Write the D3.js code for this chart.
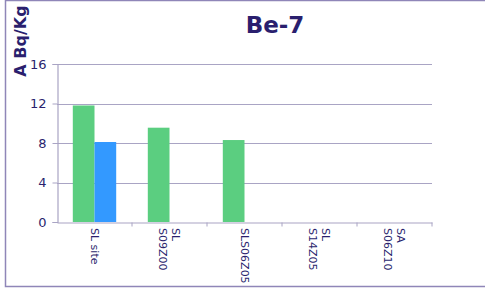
<!DOCTYPE html>
<html>
<head>
<meta charset="utf-8">
<script src="https://cdn.jsdelivr.net/npm/d3@7"></script>
<style>
  body { margin: 0; background: #fff; }
  text { font-family: "DejaVu Sans", Verdana, sans-serif; fill: #2a1f6e; }
</style>
</head>
<body>
<div id="chart"></div>
<script>
// chart data
var categories = ["SL site", "SL\nS09Z00", "SLS06Z05", "SL\nS14Z05", "SA\nS06Z10"];
var greenValues = [11.8, 9.55, 8.3, 0, 0];
var blueValues = [8.1, 0, 0, 0, 0];
var yTicks = [0, 4, 8, 12, 16];

var W = 485, H = 289;
var margin = {top: 64, right: 53, bottom: 67, left: 57},
    width = W - margin.left - margin.right,
    height = H - margin.top - margin.bottom;

var root = d3.select("#chart").append("svg")
    .attr("width", W)
    .attr("height", H);

// outer frame
root.append("path")
    .attr("d", "M485,0.5 H5.5 V286.5 H485")
    .attr("fill", "none")
    .attr("stroke", "#8f86b8")
    .attr("stroke-width", 1.5);

var svg = root.append("g")
    .attr("transform", "translate(" + margin.left + "," + margin.top + ")");

var x = d3.scaleBand()
    .domain(categories)
    .range([0, width]);

var y = d3.scaleLinear()
    .domain([0, 16])
    .range([height, 0]);

// gridlines
svg.selectAll(".grid")
    .data(yTicks.filter(function(d) { return d > 0; }))
    .enter().append("line")
    .attr("x1", 0)
    .attr("x2", width)
    .attr("y1", function(d) { return Math.round(y(d)) + 0.5; })
    .attr("y2", function(d) { return Math.round(y(d)) + 0.5; })
    .attr("stroke", "#a9a4c4")
    .attr("stroke-width", 1.2);

// bars
var barW = 21.7;
var groupOff = (x.bandwidth() - 2 * barW) / 2;
svg.selectAll(".g-bar")
    .data(greenValues)
    .enter().append("rect")
    .attr("x", function(d, i) { return x(categories[i]) + groupOff; })
    .attr("y", function(d) { return y(d); })
    .attr("width", barW)
    .attr("height", function(d) { return height - y(d); })
    .attr("fill", "#5bce80");

svg.selectAll(".b-bar")
    .data(blueValues)
    .enter().append("rect")
    .attr("x", function(d, i) { return x(categories[i]) + groupOff + barW; })
    .attr("y", function(d) { return y(d); })
    .attr("width", barW)
    .attr("height", function(d) { return height - y(d); })
    .attr("fill", "#3399ff");

// y axis
var yAxis = svg.append("g")
    .attr("transform", "translate(0.5,0)")
    .call(d3.axisLeft(y).tickValues(yTicks).tickSize(5).tickPadding(6).tickFormat(d3.format("d")));
yAxis.select(".domain").attr("stroke", "#a9a4c4").attr("stroke-width", 1.2);
yAxis.selectAll(".tick line").attr("stroke", "#a9a4c4");
yAxis.selectAll(".tick text").attr("font-size", 13).attr("fill", "#2a1f6e")
    .attr("font-family", "DejaVu Sans, sans-serif");

// x axis
var xAxis = svg.append("g")
    .attr("transform", "translate(0," + (height + 0.5) + ")")
    .call(d3.axisBottom(x).tickValues([]).tickSizeOuter(0));
xAxis.select(".domain").attr("stroke", "#a9a4c4").attr("stroke-width", 1.2);
var bounds = categories.map(function(c) { return x(c); }).concat([width]);
xAxis.selectAll(".sep")
    .data(bounds.slice(1))
    .enter().append("line")
    .attr("x1", function(d) { return d; })
    .attr("x2", function(d) { return d; })
    .attr("y1", 0)
    .attr("y2", 4)
    .attr("stroke", "#a9a4c4");

var labels = svg.append("g")
    .attr("transform", "translate(0," + (height + 6) + ")");
categories.forEach(function(c) {
    var lines = c.split("\n");
    var cx = x(c) + x.bandwidth() / 2;
    var t = labels.append("text")
        .attr("transform", "translate(" + cx + ",0) rotate(90)")
        .attr("font-size", 11)
        .attr("text-anchor", "start");
    lines.forEach(function(l, i) {
        t.append("tspan")
            .attr("x", 0)
            .attr("y", (i - (lines.length - 1) / 2) * 12.5)
            .attr("dy", "0.35em")
            .text(l);
    });
});

// title
root.append("text")
    .attr("x", 275)
    .attr("y", 33)
    .attr("text-anchor", "middle")
    .attr("font-size", 23)
    .attr("font-weight", "bold")
    .text("Be-7");

// y label
root.append("text")
    .attr("transform", "translate(26,41) rotate(-90)")
    .attr("text-anchor", "middle")
    .attr("font-size", 16)
    .attr("font-weight", "bold")
    .text("A Bq/Kg");
</script>
</body>
</html>
